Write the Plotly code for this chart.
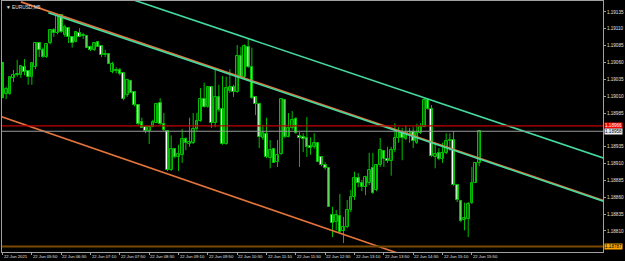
import plotly.graph_objects as go

symbol = "EURUSD,M5"
opens = [1.19059, 1.19013, 1.19013, 1.19037, 1.19041, 1.19041, 1.19053, 1.19047, 1.19039, 1.19053,
         1.19089, 1.19079, 1.19068, 1.19089, 1.19108, 1.19104, 1.19131, 1.19101, 1.19111, 1.19098,
         1.19090, 1.19104, 1.19099, 1.19099, 1.19083, 1.19079, 1.19090, 1.19085, 1.19071, 1.19073,
         1.19046, 1.19049, 1.19049, 1.19044, 1.19012, 1.19033, 1.19016, 1.18997, 1.18972, 1.18964,
         1.18958, 1.18964, 1.18970, 1.19000, 1.18969, 1.18958, 1.18901, 1.18932, 1.18920, 1.18923,
         1.18947, 1.18939, 1.18941, 1.18961, 1.18973, 1.19006, 1.18994, 1.19024, 1.18970, 1.19009,
         1.18991, 1.18939, 1.19018, 1.19024, 1.19016, 1.19070, 1.19039, 1.19083, 1.19053, 1.19009,
         1.18998, 1.18948, 1.18954, 1.18918, 1.18932, 1.18912, 1.18924, 1.19004, 1.18949, 1.18963,
         1.18976, 1.18951, 1.18949, 1.18948, 1.18936, 1.18935, 1.18941, 1.18920, 1.18908, 1.18903,
         1.18834, 1.18823, 1.18832, 1.18810, 1.18816, 1.18841, 1.18860, 1.18889, 1.18881, 1.18875,
         1.18881, 1.18903, 1.18871, 1.18908, 1.18929, 1.18917, 1.18914, 1.18930, 1.18948, 1.18955,
         1.18947, 1.18952, 1.18957, 1.18941, 1.18955, 1.18964, 1.19004, 1.18991, 1.18920, 1.18926,
         1.18917, 1.18926, 1.18944, 1.18945, 1.18878, 1.18855, 1.18826, 1.18828, 1.18852, 1.18881,
         1.18911]
highs = [1.19059, 1.19024, 1.19040, 1.19049, 1.19064, 1.19056, 1.19065, 1.19049, 1.19059, 1.19089,
         1.19089, 1.19082, 1.19087, 1.19108, 1.19111, 1.19129, 1.19132, 1.19116, 1.19111, 1.19098,
         1.19107, 1.19111, 1.19104, 1.19099, 1.19085, 1.19090, 1.19092, 1.19085, 1.19079, 1.19073,
         1.19061, 1.19053, 1.19052, 1.19046, 1.19036, 1.19034, 1.19016, 1.18998, 1.18978, 1.18966,
         1.18966, 1.18975, 1.18998, 1.19007, 1.18985, 1.18960, 1.18952, 1.18933, 1.18938, 1.18961,
         1.18949, 1.18978, 1.18985, 1.18985, 1.19022, 1.19030, 1.19024, 1.19024, 1.19049, 1.19027,
         1.19040, 1.19039, 1.19050, 1.19027, 1.19086, 1.19083, 1.19087, 1.19095, 1.19082, 1.19009,
         1.19000, 1.18967, 1.18978, 1.18945, 1.18933, 1.18945, 1.19006, 1.19004, 1.18985, 1.18988,
         1.18979, 1.18957, 1.18955, 1.18979, 1.18949, 1.18955, 1.18941, 1.18920, 1.18912, 1.18903,
         1.18846, 1.18841, 1.18865, 1.18831, 1.18856, 1.18871, 1.18898, 1.18896, 1.18886, 1.18892,
         1.18926, 1.18926, 1.18909, 1.18948, 1.18930, 1.18935, 1.18935, 1.18970, 1.18964, 1.18963,
         1.18967, 1.18963, 1.18964, 1.18969, 1.18970, 1.19007, 1.19007, 1.18997, 1.18941, 1.18933,
         1.18941, 1.18955, 1.18955, 1.18958, 1.18880, 1.18856, 1.18852, 1.18853, 1.18905, 1.18912,
         1.18958]
lows = [1.19007, 1.19006, 1.19012, 1.19031, 1.19039, 1.19037, 1.19041, 1.19027, 1.19027, 1.19050,
        1.19068, 1.19067, 1.19067, 1.19087, 1.19098, 1.19102, 1.19104, 1.19098, 1.19089, 1.19082,
        1.19090, 1.19098, 1.19095, 1.19082, 1.19077, 1.19077, 1.19083, 1.19068, 1.19068, 1.19058,
        1.19044, 1.19044, 1.19041, 1.19004, 1.19009, 1.19015, 1.18995, 1.18967, 1.18963, 1.18955,
        1.18939, 1.18964, 1.18970, 1.18967, 1.18958, 1.18899, 1.18899, 1.18918, 1.18899, 1.18911,
        1.18930, 1.18935, 1.18939, 1.18958, 1.18972, 1.18993, 1.18993, 1.18963, 1.18964, 1.18987,
        1.18938, 1.18938, 1.19015, 1.19009, 1.19015, 1.19037, 1.19037, 1.19052, 1.19006, 1.18982,
        1.18933, 1.18945, 1.18918, 1.18903, 1.18911, 1.18905, 1.18923, 1.18948, 1.18949, 1.18960,
        1.18954, 1.18905, 1.18927, 1.18920, 1.18923, 1.18932, 1.18912, 1.18906, 1.18901, 1.18846,
        1.18801, 1.18811, 1.18807, 1.18792, 1.18814, 1.18838, 1.18856, 1.18875, 1.18869, 1.18863,
        1.18878, 1.18865, 1.18869, 1.18905, 1.18905, 1.18911, 1.18892, 1.18927, 1.18941, 1.18915,
        1.18945, 1.18941, 1.18933, 1.18939, 1.18954, 1.18964, 1.18990, 1.18920, 1.18903, 1.18915,
        1.18911, 1.18924, 1.18929, 1.18877, 1.18853, 1.18823, 1.18811, 1.18801, 1.18850, 1.18881,
        1.18906]
closes = [1.19007, 1.19021, 1.19039, 1.19041, 1.19043, 1.19055, 1.19046, 1.19039, 1.19059, 1.19089,
          1.19079, 1.19068, 1.19087, 1.19108, 1.19104, 1.19129, 1.19105, 1.19113, 1.19098, 1.19089,
          1.19105, 1.19098, 1.19101, 1.19082, 1.19079, 1.19089, 1.19083, 1.19071, 1.19073, 1.19058,
          1.19058, 1.19047, 1.19043, 1.19006, 1.19034, 1.19015, 1.18997, 1.18969, 1.18963, 1.18958,
          1.18964, 1.18972, 1.18998, 1.18969, 1.18960, 1.18901, 1.18932, 1.18920, 1.18924, 1.18947,
          1.18941, 1.18942, 1.18961, 1.18973, 1.19006, 1.18994, 1.19024, 1.18970, 1.19009, 1.18990,
          1.18939, 1.19022, 1.19024, 1.19016, 1.19070, 1.19039, 1.19085, 1.19053, 1.19007, 1.18998,
          1.18949, 1.18955, 1.18920, 1.18930, 1.18911, 1.18923, 1.19006, 1.18949, 1.18963, 1.18975,
          1.18955, 1.18948, 1.18947, 1.18935, 1.18933, 1.18941, 1.18912, 1.18908, 1.18903, 1.18846,
          1.18822, 1.18834, 1.18808, 1.18816, 1.18841, 1.18860, 1.18889, 1.18881, 1.18875, 1.18890,
          1.18901, 1.18866, 1.18908, 1.18930, 1.18917, 1.18914, 1.18930, 1.18948, 1.18958, 1.18948,
          1.18952, 1.18957, 1.18944, 1.18955, 1.18964, 1.19004, 1.18991, 1.18921, 1.18924, 1.18917,
          1.18926, 1.18944, 1.18945, 1.18878, 1.18856, 1.18825, 1.18829, 1.18850, 1.18881, 1.18911,
          1.18958]

time_tick_pos = [0, 8, 16, 24, 32, 40, 48, 56, 64, 72, 80, 88, 96, 104, 112, 120, 128]
time_tick_labels = ["22 Jun 2021", "22 Jun 05:50", "22 Jun 06:30", "22 Jun 07:10", "22 Jun 07:50",
                    "22 Jun 08:30", "22 Jun 09:10", "22 Jun 09:50", "22 Jun 10:30", "22 Jun 11:10",
                    "22 Jun 11:50", "22 Jun 12:30", "22 Jun 13:10", "22 Jun 13:50", "22 Jun 14:30",
                    "22 Jun 15:10", "22 Jun 15:50"]
price_ticks = [1.19135, 1.19110, 1.19085, 1.19060, 1.19035, 1.19010, 1.18985,
               1.18935, 1.18910, 1.18885, 1.18860, 1.18835, 1.18810]

# trend lines: (bar index, price) anchors
upper_orange_x = [5, 164]
upper_orange_y = [1.19150, 1.18855]
mid_green_x = [12.5, 164]
mid_green_y = [1.19134, 1.18854]
upper_green_x = [34, 164]
upper_green_y = [1.19156, 1.18918]
lower_orange_x = [-1, 110]
lower_orange_y = [1.18981, 1.18773]

red_level = 1.18966
bid_level = 1.18958
brown_level = 1.18787

X_RANGE = [-0.14, 163.76]
Y_RANGE = [1.187788, 1.191513]

GREEN = "#00c000"
ORANGE = "#e2743c"
MINT = "#45dba0"
FONT = "Liberation Sans"

idx = list(range(len(opens)))

wx, wy = [], []
for i in idx:
    wx += [i, i, None]
    wy += [lows[i], highs[i], None]

body_base = [min(o, c) for o, c in zip(opens, closes)]
body_h = [max(abs(c - o), 0.000008) for o, c in zip(opens, closes)]
body_fill = ["#000000" if c >= o else "#ffffff" for o, c in zip(opens, closes)]

fig = go.Figure()
fig.add_trace(go.Scatter(x=wx, y=wy, mode="lines", line=dict(color=GREEN, width=1),
                         hoverinfo="skip", showlegend=False))
fig.add_trace(go.Bar(x=idx, y=body_h, base=body_base, width=0.72,
                     marker=dict(color=body_fill, line=dict(color=GREEN, width=1)),
                     showlegend=False))

for xs, ys, col in [(upper_orange_x, upper_orange_y, ORANGE),
                    (lower_orange_x, lower_orange_y, ORANGE),
                    (mid_green_x, mid_green_y, MINT),
                    (upper_green_x, upper_green_y, MINT)]:
    fig.add_trace(go.Scatter(x=xs, y=ys, mode="lines", line=dict(color=col, width=1.6),
                             hoverinfo="skip", showlegend=False))

for lvl, col, w in [(red_level, "#c00000", 1.2), (bid_level, "#9a9a9a", 1), (brown_level, "#7a4a00", 2)]:
    fig.add_trace(go.Scatter(x=X_RANGE, y=[lvl, lvl], mode="lines", line=dict(color=col, width=w),
                             hoverinfo="skip", showlegend=False))

annotations = []
for pos, lab in zip(time_tick_pos, time_tick_labels):
    annotations.append(dict(x=pos, y=0, xref="x", yref="paper", text=lab, showarrow=False,
                            xanchor="left", yanchor="top", xshift=-1, yshift=0,
                            font=dict(family=FONT, size=4.2, color="#e0e0e0")))
for lvl, bg, fc in [(red_level, "#ff0000", "#ffffff"), (bid_level, "#f0f0f0", "#000000"),
                    (brown_level, "#ffa500", "#000000")]:
    annotations.append(dict(x=1, y=lvl, xref="paper", yref="y", text=f"{lvl:.5f}", showarrow=False,
                            xanchor="left", yanchor="middle", xshift=1, bgcolor=bg, borderpad=0,
                            font=dict(family=FONT, size=4.6, color=fc)))
annotations.append(dict(x=0, y=1, xref="paper", yref="paper", text="▼ " + symbol, showarrow=False,
                        xanchor="left", yanchor="top", xshift=2, yshift=-2,
                        font=dict(family=FONT, size=4.8, color="#e0e0e0")))

fig.update_layout(
    width=625, height=261,
    margin=dict(l=2, r=22, t=1, b=9),
    paper_bgcolor="#000000", plot_bgcolor="#000000",
    barmode="overlay", bargap=0,
    annotations=annotations,
    xaxis=dict(range=X_RANGE, showgrid=False, zeroline=False, showline=True, mirror=True,
               linecolor="#a0a0a0", linewidth=1, tickvals=time_tick_pos, showticklabels=False,
               ticks="outside", ticklen=2, tickcolor="#a0a0a0"),
    yaxis=dict(range=Y_RANGE, side="right", showgrid=False, zeroline=False, showline=True,
               mirror=True, linecolor="#a0a0a0", linewidth=1, tickvals=price_ticks,
               ticktext=[f"{v:.5f}" for v in price_ticks], ticks="outside", ticklen=2,
               tickcolor="#a0a0a0", tickfont=dict(family=FONT, size=4.6, color="#e0e0e0")),
)

fig.write_html("out.html")
